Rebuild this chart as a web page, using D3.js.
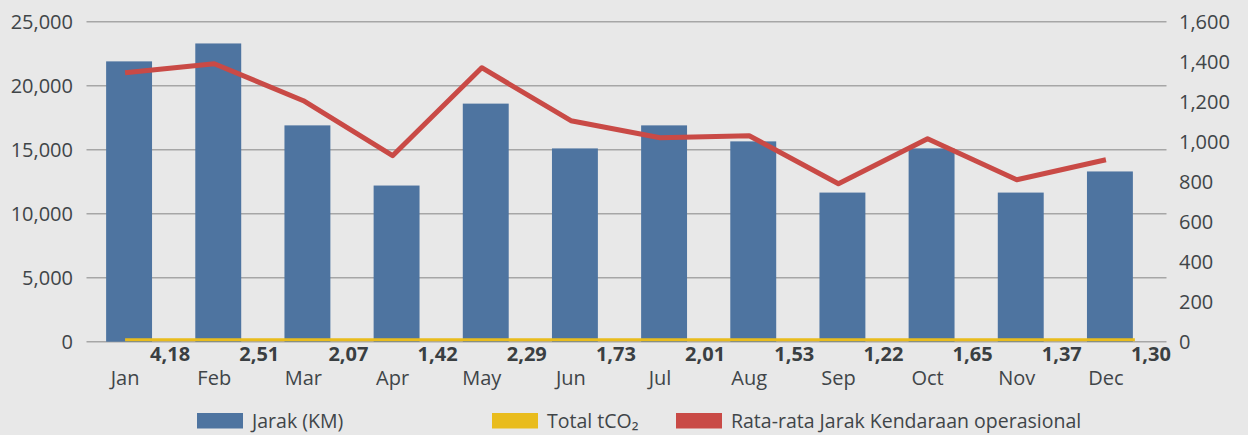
<!DOCTYPE html>
<html><head><meta charset="utf-8">
<script src="https://cdn.jsdelivr.net/npm/d3@7/dist/d3.min.js"></script>
<style>
html,body{margin:0;padding:0;background:#e8e8e8;}
svg{display:block;font-family:"Open Sans",sans-serif;}
</style></head>
<body><svg id="c" width="1248" height="435"></svg>
<script>
const months = ["Jan","Feb","Mar","Apr","May","Jun","Jul","Aug","Sep","Oct","Nov","Dec"];
const jarak = [21900,23300,16900,12200,18600,15100,16900,15650,11650,15100,11650,13300];
const totalCO2 = [4.18,2.51,2.07,1.42,2.29,1.73,2.01,1.53,1.22,1.65,1.37,1.30];
const rataRata = [1345,1390,1205,930,1370,1105,1020,1030,790,1015,810,910];
const leftTicks = [0,5000,10000,15000,20000,25000];
const rightTicks = [0,200,400,600,800,1000,1200,1400,1600];
const legendLabels = ["Jarak (KM)","Total tCO₂","Rata-rata Jarak Kendaraan operasional"];

const svg = d3.select("#c");
const textColor = "#404548";
const gridL = 86.5, gridR = 1166.5;
const x = d3.scaleBand().domain(months).range([84.5,1154.5]).paddingInner(0.485).paddingOuter(0.2425);
const yL = d3.scaleLinear().domain([0,25000]).range([341.7,21.7]);
const yR = d3.scaleLinear().domain([0,1600]).range([341.7,21.7]);
const cx = m => x(m) + x.bandwidth()/2;

// gridlines
svg.append("g").selectAll("line").data(leftTicks).join("line")
  .attr("x1",gridL).attr("x2",gridR)
  .attr("y1",d=>yL(d)).attr("y2",d=>yL(d))
  .attr("stroke","#a6a6a6").attr("stroke-width",1.6);

// left axis labels
const fmt = d3.format(",");
svg.append("g").selectAll("text").data(leftTicks).join("text")
  .attr("x",73).attr("y",d=>yL(d)).attr("dy","0.35em")
  .attr("text-anchor","end").attr("fill",textColor).attr("font-size",20)
  .text(d=>fmt(d));
// right axis labels
svg.append("g").selectAll("text").data(rightTicks).join("text")
  .attr("x",1179).attr("y",d=>yR(d)).attr("dy","0.35em")
  .attr("text-anchor","start").attr("fill",textColor).attr("font-size",20)
  .text(d=>fmt(d));

// bars
svg.append("g").selectAll("rect").data(months).join("rect")
  .attr("x",m=>x(m)).attr("width",x.bandwidth())
  .attr("y",(m,i)=>yL(jarak[i])).attr("height",(m,i)=>yL(0)-yL(jarak[i]))
  .attr("fill","#4e74a0");

// yellow line (Total tCO2) - spans from first point to end of last bar
const xY = d3.scaleLinear().domain([0, months.length-1])
  .range([cx(months[0])-4, x(months[months.length-1]) + x.bandwidth() + 2]);
svg.append("path").datum(totalCO2)
  .attr("d",d3.line().x((d,i)=>xY(i)).y(d=>yL(d)-2))
  .attr("fill","none").attr("stroke","#e9bc1d").attr("stroke-width",3);
// data labels
svg.append("g").selectAll("text").data(totalCO2).join("text")
  .attr("x",(d,i)=>cx(months[i])+21).attr("y",354).attr("dy","0.35em")
  .attr("text-anchor","start").attr("fill","#3a3f42").attr("font-size",20).attr("font-weight","bold")
  .text(d=>d3.format(".2f")(d).replace(".",","));

// red line
svg.append("path").datum(rataRata)
  .attr("d",d3.line().x((d,i)=>cx(months[i])-4).y(d=>yR(d)))
  .attr("fill","none").attr("stroke","#c94a46").attr("stroke-width",5).attr("stroke-linejoin","round");

// month labels
svg.append("g").selectAll("text").data(months).join("text")
  .attr("x",m=>cx(m)-4).attr("y",378).attr("dy","0.35em")
  .attr("text-anchor","middle").attr("fill",textColor).attr("font-size",20)
  .text(m=>m);

// legend
const legItems = [
  {label:legendLabels[0], color:"#4e74a0", x:197},
  {label:legendLabels[1], color:"#e9bc1d", x:492},
  {label:legendLabels[2], color:"#c94a46", x:676}
];
const lg = svg.append("g").selectAll("g").data(legItems).join("g");
lg.append("rect").attr("x",d=>d.x).attr("y",413).attr("width",46).attr("height",15.5).attr("fill",d=>d.color);
lg.append("text").attr("x",d=>d.x+55).attr("y",421).attr("dy","0.35em")
  .attr("fill",textColor).attr("font-size",19.5).text(d=>d.label);
</script></body></html>
